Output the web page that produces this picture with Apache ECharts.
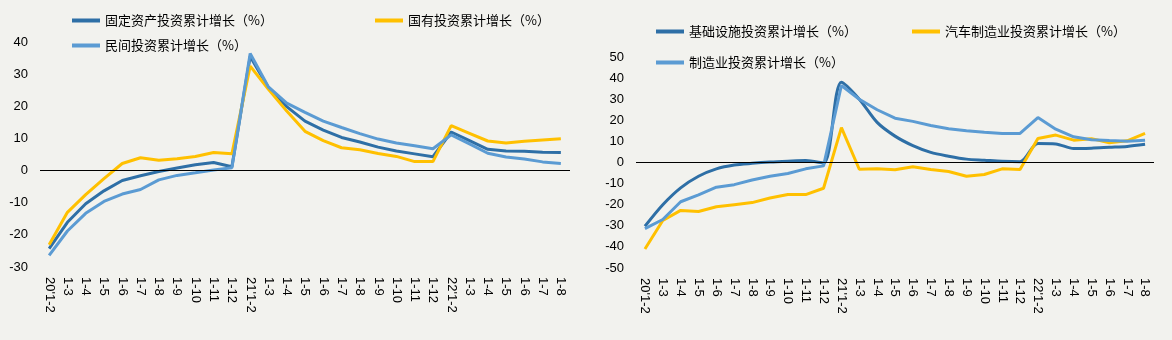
<!DOCTYPE html>
<html><head><meta charset="utf-8">
<script src="https://cdn.jsdelivr.net/npm/echarts@6/dist/echarts.min.js"></script>
<style>html,body{margin:0;padding:0;background:#F2F2EE;}#c{width:1172px;height:340px;}</style>
</head><body><div id="c"></div>
<script>
var categories = ["20'1-2","1-3","1-4","1-5","1-6","1-7","1-8","1-9","1-10","1-11","1-12",
  "21'1-2","1-3","1-4","1-5","1-6","1-7","1-8","1-9","1-10","1-11","1-12",
  "22'1-2","1-3","1-4","1-5","1-6","1-7","1-8"];
var leftTicks = [-30, 40, 10];
var rightTicks = [-50, 50, 10];
// left chart
var fixedAsset = [-24.3,-16.1,-10.3,-6.3,-3.1,-1.6,-0.3,0.8,1.8,2.5,1.2,
  35.5,25.8,19.9,15.4,12.6,10.3,8.9,7.3,6.1,5.2,4.3,
  12.0,9.3,6.6,6.1,6.0,5.7,5.6];
var stateOwned = [-23.1,-13.0,-7.5,-2.5,2.2,4.0,3.2,3.7,4.4,5.6,5.2,
  32.5,25.3,18.5,12.2,9.3,7.1,6.5,5.3,4.4,2.8,2.8,
  14.0,11.6,9.2,8.6,9.1,9.5,9.9];
var privateInv = [-26.4,-18.8,-13.3,-9.6,-7.3,-5.9,-2.9,-1.5,-0.7,0.2,0.9,
  36.4,26.0,21.0,18.1,15.4,13.4,11.5,9.8,8.6,7.7,6.8,
  11.1,8.3,5.4,4.2,3.6,2.7,2.2];
// right chart
var infra = [-30.2,-20.0,-12.0,-6.5,-3.0,-1.2,-0.4,0.2,0.6,0.9,-0.3,
  38.0,30.0,19.0,12.5,8.0,4.8,3.0,1.6,1.1,0.6,0.4,
  9.0,8.8,6.6,6.8,7.2,7.6,8.6];
var autoMfg = [-41.0,-27.5,-22.7,-23.2,-21.0,-20.0,-19.0,-16.8,-15.2,-15.2,-12.2,
  16.5,-3.2,-3.0,-3.4,-2.0,-3.3,-4.3,-6.5,-5.7,-3.0,-3.3,
  11.4,13.0,10.6,11.3,9.4,10.3,13.8];
var mfg = [-31.3,-27.0,-18.6,-15.3,-11.7,-10.5,-8.3,-6.5,-5.2,-3.0,-1.6,
  36.5,30.0,25.0,21.0,19.5,17.5,16.0,15.0,14.3,13.8,13.8,
  21.3,15.8,12.2,10.8,10.4,10.1,10.5];

var DARK = '#2E6FA6', LIGHT = '#5B9BD3', YELLOW = '#FFC000';
var numFont = 'Liberation Sans, Arial, sans-serif';
var cjkFont = '"Noto Sans CJK SC", sans-serif';

function xAxis(gi) {
  return {
    type: 'category', gridIndex: gi, data: categories,
    axisLine: { show: false }, axisTick: { show: false },
    axisLabel: { rotate: -90, interval: 0, margin: 10, color: '#000', fontSize: 13, fontFamily: numFont }
  };
}
function yAxis(gi, t) {
  return {
    type: 'value', gridIndex: gi, min: t[0], max: t[1], interval: t[2],
    axisLine: { show: false }, axisTick: { show: false }, splitLine: { show: false },
    axisLabel: { color: '#000', fontSize: 13, fontFamily: numFont, margin: 12 }
  };
}
function line(name, data, color, gi, smooth, zeroLine) {
  var s = {
    name: name, type: 'line', xAxisIndex: gi, yAxisIndex: gi, data: data,
    symbol: 'none', smooth: smooth || false,
    lineStyle: { color: color, width: 3 }, itemStyle: { color: color }
  };
  if (zeroLine) {
    s.markLine = { silent: true, symbol: 'none', label: { show: false },
      lineStyle: { color: '#000', width: 1, type: 'solid' }, data: [{ yAxis: 0 }] };
  }
  return s;
}
function legend(name, left, top) {
  return { data: [name], left: left, top: top, icon: 'rect', itemWidth: 28, itemHeight: 4, itemGap: 5,
    textStyle: { color: '#000', fontSize: 13, fontFamily: cjkFont }, selectedMode: false };
}

var chart = echarts.init(document.getElementById('c'), null, { renderer: 'canvas' });
chart.setOption({
  backgroundColor: '#F2F2EE',
  animation: false,
  grid: [
    { left: 40, top: 42, width: 530, bottom: 73 },
    { left: 636, top: 57, width: 518, bottom: 72 }
  ],
  legend: [
    legend('固定资产投资累计增长（%）', 67, 9),
    legend('国有投资累计增长（%）', 370, 9),
    legend('民间投资累计增长（%）', 67, 34),
    legend('基础设施投资累计增长（%）', 651, 20),
    legend('汽车制造业投资累计增长（%）', 907, 20),
    legend('制造业投资累计增长（%）', 651, 51)
  ],
  xAxis: [xAxis(0), xAxis(1)],
  yAxis: [yAxis(0, leftTicks), yAxis(1, rightTicks)],
  series: [
    line('固定资产投资累计增长（%）', fixedAsset, DARK, 0, false, true),
    line('国有投资累计增长（%）', stateOwned, YELLOW, 0, false),
    line('民间投资累计增长（%）', privateInv, LIGHT, 0, false),
    line('基础设施投资累计增长（%）', infra, DARK, 1, 0.3, true),
    line('汽车制造业投资累计增长（%）', autoMfg, YELLOW, 1, false),
    line('制造业投资累计增长（%）', mfg, LIGHT, 1, false)
  ]
});
</script></body></html>
